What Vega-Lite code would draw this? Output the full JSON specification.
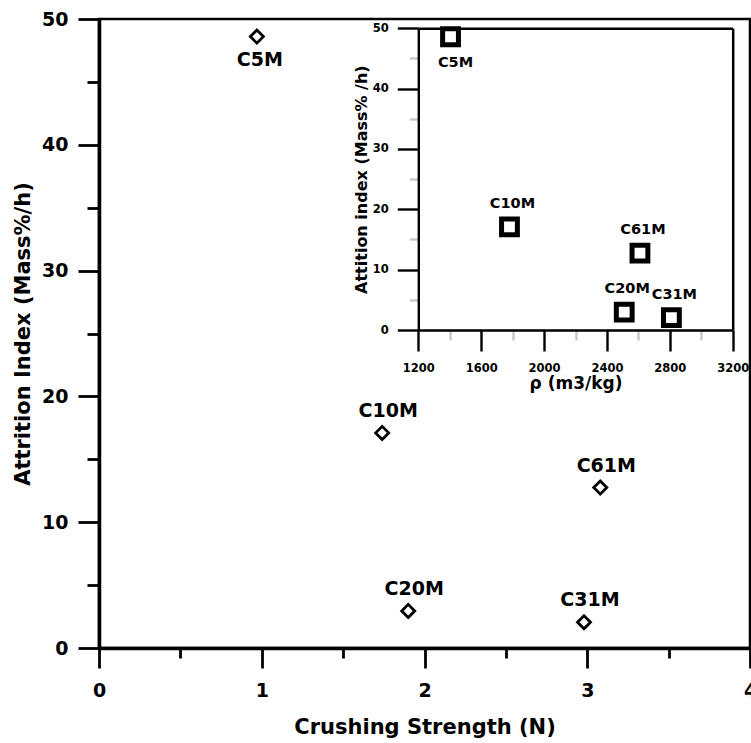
{
  "$schema": "https://vega.github.io/schema/vega-lite/v6.json",
  "width": 651,
  "height": 629,
  "autosize": "none",
  "padding": {"left": 99, "top": 19, "right": 1, "bottom": 95},
  "background": "white",
  "config": {
    "font": "DejaVu Sans",
    "view": {"stroke": "black", "strokeWidth": 2.5},
    "axis": {"grid": false, "labelFlush": false, "labelOverlap": false, "domainColor": "black", "tickColor": "black", "labelColor": "black", "titleColor": "black", "labelFontWeight": "bold", "titleFontWeight": "bold"}
  },
  "datasets": {
    "samples": [
      {"sample": "C5M", "cs": 0.97, "rho": 1405, "ai": 48.6},
      {"sample": "C10M", "cs": 1.74, "rho": 1780, "ai": 17.1},
      {"sample": "C20M", "cs": 1.90, "rho": 2510, "ai": 2.95},
      {"sample": "C31M", "cs": 2.98, "rho": 2810, "ai": 2.05},
      {"sample": "C61M", "cs": 3.08, "rho": 2610, "ai": 12.75}
    ]
  },
  "data": {"name": "samples"},
  "layer": [
    {
      "encoding": {
        "x": {
          "field": "cs", "type": "quantitative",
          "scale": {"domain": [0, 4], "nice": false, "zero": false},
          "axis": {
            "orient": "bottom",
            "values": [0, 0.5, 1, 1.5, 2, 2.5, 3, 3.5, 4],
            "labelExpr": "datum.value % 1 === 0 ? '' + datum.value : ''",
            "tickSize": {"condition": {"test": "datum.value % 1 === 0", "value": 20}, "value": 10},
            "tickWidth": 2.8, "domainWidth": 3.5,
            "labelFontSize": 19, "labelPadding": 13,
            "title": "Crushing Strength (N)", "titleFontSize": 21, "titlePadding": 16
          }
        },
        "y": {
          "field": "ai", "type": "quantitative",
          "scale": {"domain": [0, 50], "nice": false, "zero": false},
          "axis": {
            "orient": "left",
            "values": [0, 5, 10, 15, 20, 25, 30, 35, 40, 45, 50],
            "labelExpr": "datum.value % 10 === 0 ? '' + datum.value : ''",
            "tickSize": {"condition": {"test": "datum.value % 10 === 0", "value": 21}, "value": 12},
            "tickWidth": 2.8, "domainWidth": 3.5,
            "labelFontSize": 19, "labelPadding": 10,
            "title": "Attrition Index (Mass%/h)", "titleFontSize": 21, "titlePadding": 8
          }
        }
      },
      "layer": [
        {"mark": {"type": "point", "shape": "diamond", "size": 170, "strokeWidth": 2.8, "color": "black", "filled": false, "opacity": 1}},
        {
          "transform": [{"filter": "datum.sample !== 'C5M'"}],
          "mark": {"type": "text", "font": "DejaVu Sans", "fontWeight": "bold", "fontSize": 19, "dy": -22, "dx": 6, "baseline": "middle", "color": "black"},
          "encoding": {"text": {"field": "sample"}}
        },
        {
          "transform": [{"filter": "datum.sample === 'C5M'"}],
          "mark": {"type": "text", "font": "DejaVu Sans", "fontWeight": "bold", "fontSize": 19, "dy": 23, "dx": 3, "baseline": "middle", "color": "black"},
          "encoding": {"text": {"field": "sample"}}
        }
      ]
    },
    {
      "encoding": {
        "x": {
          "field": "rho", "type": "quantitative",
          "scale": {"domain": [1200, 3200], "range": [319.3, 633.7], "nice": false, "zero": false}
        },
        "y": {
          "field": "ai", "type": "quantitative",
          "scale": {"domain": [0, 50], "range": [311, 9.3], "nice": false, "zero": false}
        }
      },
      "layer": [
        {
          "mark": {"type": "point", "shape": "square", "size": 250, "strokeWidth": 5, "color": "black", "filled": false, "opacity": 1},
          "encoding": {
            "x": {
              "field": "rho", "type": "quantitative",
              "axis": {
                "orient": "bottom", "offset": -318,
                "values": [1200, 1400, 1600, 1800, 2000, 2200, 2400, 2600, 2800, 3000, 3200],
                "labelExpr": "(datum.value - 1200) % 400 === 0 ? '' + datum.value : ''",
                "tickSize": {"condition": {"test": "(datum.value - 1200) % 400 === 0", "value": 21}, "value": 10},
                "tickColor": {"condition": {"test": "(datum.value - 1200) % 400 === 0", "value": "black"}, "value": "#c8c8c8"},
                "tickWidth": 2.4, "domainWidth": 2.4,
                "labelFontSize": 11.5, "labelPadding": 11,
                "title": "ρ (m3/kg)", "titleFontSize": 17, "titlePadding": 2
              }
            },
            "y": {
              "field": "ai", "type": "quantitative",
              "axis": {
                "orient": "left", "offset": -319.3,
                "values": [0, 5, 10, 15, 20, 25, 30, 35, 40, 45, 50],
                "labelExpr": "datum.value % 10 === 0 ? '' + datum.value : ''",
                "tickSize": {"condition": {"test": "datum.value % 10 === 0", "value": 21}, "value": 9},
                "tickColor": {"condition": {"test": "datum.value % 10 === 0", "value": "black"}, "value": "#c8c8c8"},
                "tickWidth": 2.4, "domainWidth": 2.4,
                "labelFontSize": 11.5, "labelPadding": 9,
                "title": "Attition index (Mass% /h)", "titleFontSize": 16, "titlePadding": 3
              }
            }
          }
        },
        {
          "transform": [{"filter": "datum.sample !== 'C5M'"}],
          "mark": {"type": "text", "font": "DejaVu Sans", "fontWeight": "bold", "fontSize": 14.5, "dy": -23, "dx": 3, "baseline": "middle", "color": "black"},
          "encoding": {
            "text": {"field": "sample"},
            "x": {"field": "rho", "type": "quantitative", "axis": {"orient": "top", "offset": -9.3, "ticks": false, "labels": false, "title": null, "domainWidth": 2.5}},
            "y": {"field": "ai", "type": "quantitative", "axis": {"orient": "right", "offset": -17.3, "ticks": false, "labels": false, "title": null, "domainWidth": 2.5}}
          }
        },
        {
          "transform": [{"filter": "datum.sample === 'C5M'"}],
          "mark": {"type": "text", "font": "DejaVu Sans", "fontWeight": "bold", "fontSize": 14.5, "dy": 26, "dx": 5, "baseline": "middle", "color": "black"},
          "encoding": {
            "text": {"field": "sample"},
            "x": {"field": "rho", "type": "quantitative", "axis": null},
            "y": {"field": "ai", "type": "quantitative", "axis": null}
          }
        }
      ],
      "resolve": {"axis": {"x": "independent", "y": "independent"}}
    }
  ],
  "resolve": {"scale": {"x": "independent", "y": "independent"}, "axis": {"x": "independent", "y": "independent"}}
}
